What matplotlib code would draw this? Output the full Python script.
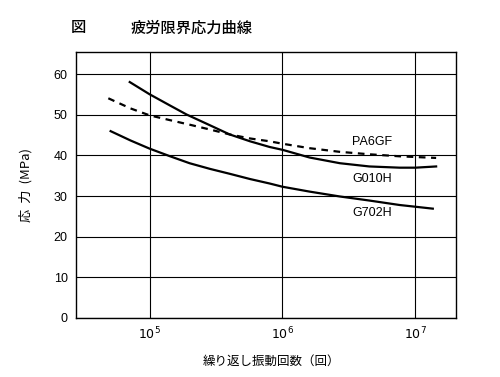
import matplotlib
matplotlib.use("Agg")
import matplotlib.pyplot as plt

plt.rcParams['font.family'] = ['Noto Sans CJK JP', 'DejaVu Sans']

# cycles and stress (MPa)
g010h_n = [7.1e4, 1.0e5, 1.43e5, 1.9e5, 2.7e5, 4.0e5, 5.7e5, 8.0e5, 1.0e6,
           1.6e6, 2.7e6, 4.5e6, 7.6e6, 1.0e7, 1.43e7]
g010h_s = [58.1, 55.1, 52.3, 50.1, 47.8, 45.2, 43.5, 42.1, 41.4,
           39.5, 38.1, 37.3, 37.0, 37.0, 37.3]

pa6gf_n = [4.9e4, 7.2e4, 1.0e5, 1.43e5, 2.0e5, 2.85e5, 4.0e5, 5.7e5, 8.0e5,
           1.0e6, 1.6e6, 2.7e6, 4.5e6, 7.6e6, 1.43e7]
pa6gf_s = [54.1, 51.6, 49.9, 48.7, 47.6, 46.4, 45.2, 44.2, 43.5,
           42.9, 41.8, 40.9, 40.3, 39.8, 39.4]

g702h_n = [5.1e4, 7.2e4, 1.0e5, 1.43e5, 2.0e5, 2.85e5, 4.0e5, 5.7e5, 8.0e5,
           1.0e6, 1.6e6, 2.7e6, 4.5e6, 7.6e6, 1.35e7]
g702h_s = [46.0, 43.7, 41.7, 39.8, 38.1, 36.7, 35.5, 34.2, 33.1,
           32.3, 31.1, 29.9, 28.9, 27.8, 26.9]

labels = ['PA6GF', 'G010H', 'G702H']
label_pos = [(4.7e6, 43.4), (4.7e6, 34.2), (4.7e6, 25.8)]

fig = plt.figure(figsize=(5, 3.77), dpi=100)
ax = fig.add_axes([0.152, 0.157, 0.759, 0.705])

ax.plot(g010h_n, g010h_s, color='black', lw=1.6)
ax.plot(pa6gf_n, pa6gf_s, color='black', lw=1.6, ls=(0, (3, 2.5)))
ax.plot(g702h_n, g702h_s, color='black', lw=1.6)

for name, (x, y) in zip(labels, label_pos):
    ax.text(x, y, name, ha='center', va='center', fontsize=9,
            family=['Liberation Sans', 'DejaVu Sans'])

ax.set_xscale('log')
ax.set_xlim(2.8e4, 2.0e7)
ax.set_ylim(0, 65.5)
ax.set_xticks([1e5, 1e6, 1e7])
ax.set_xticklabels(['$10^5$', '$10^6$', '$10^7$'])
ax.minorticks_off()
ax.set_yticks(range(0, 61, 10))
ax.tick_params(length=0, labelsize=9, pad=6)
for lab in ax.get_yticklabels():
    lab.set_family(['Liberation Sans', 'DejaVu Sans'])
ax.grid(True, color='black', lw=0.8)
for sp in ax.spines.values():
    sp.set_linewidth(1.0)

fig.text(0.156, 0.926, '図', fontsize=11, fontweight='medium', ha='center', va='center')
fig.text(0.384, 0.926, '疲労限界応力曲線', fontsize=11, fontweight='medium', ha='center', va='center')
fig.text(0.052, 0.508, '応  力  (MPa)', rotation=90, fontsize=9.5, ha='center', va='center')
fig.text(0.542, 0.041, '繰り返し振動回数（回）', fontsize=9, ha='center', va='center')

fig.savefig('out.png', dpi=100)
